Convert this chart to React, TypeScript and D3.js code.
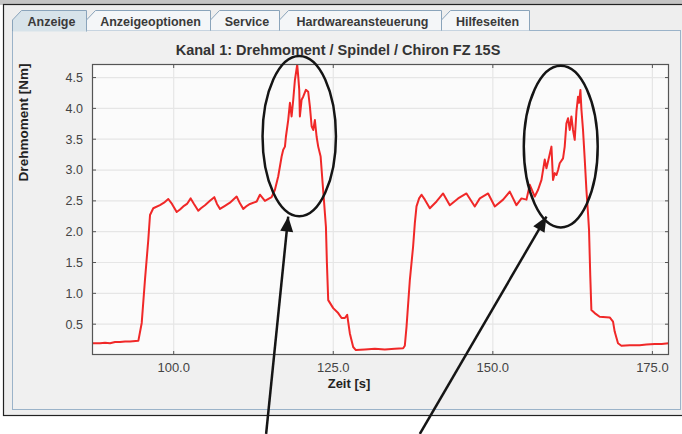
import React from 'react';
import * as d3 from 'd3';

const zeit = [
  87.2, 88.46, 89.24, 90.03, 90.81, 91.59, 92.38, 93.16, 94.46, 94.99,
  95.5, 96.02, 96.29, 96.8, 97.85, 98.48, 99.15, 99.73, 100.47, 100.99,
  101.5, 102.08, 102.66, 103.18, 103.85, 104.27, 104.9, 105.68, 106.36, 106.78,
  107.25, 108.03, 108.81, 109.86, 110.38, 110.9, 111.48, 111.95, 113.0, 113.51,
  114.29, 115.34, 115.86, 116.38, 116.91, 117.16, 117.43, 117.58, 117.94, 118.21,
  118.47, 118.73, 118.99, 119.35, 119.51, 119.67, 119.77, 120.04, 120.29, 120.71,
  121.07, 121.34, 121.61, 121.86, 122.12, 122.39, 122.64, 123.02, 123.33, 123.53,
  123.85, 124.0, 124.21, 124.99, 125.77, 126.3, 126.82, 127.18, 127.6, 128.12,
  128.54, 129.95, 131.52, 133.08, 134.65, 135.95, 136.21, 136.48, 137.0, 137.51,
  137.78, 138.04, 138.45, 138.83, 139.35, 140.13, 141.18, 142.21, 143.26, 144.56,
  145.87, 147.17, 147.96, 149.26, 150.31, 151.61, 152.65, 153.7, 154.49, 155.27,
  155.79, 156.57, 157.09, 157.62, 158.13, 158.4, 158.65, 159.18, 159.43, 159.7,
  159.97, 160.22, 160.48, 161.0, 161.26, 161.53, 161.78, 162.05, 162.31, 162.56,
  162.83, 163.1, 163.35, 163.51, 163.72, 163.88, 164.13, 164.4, 164.66, 164.91,
  165.07, 165.26, 165.44, 165.96, 166.74, 168.31, 168.83, 169.09, 169.61, 170.14,
  171.44, 173.0, 174.06, 175.36, 176.45, 177.54
];

const drehmoment = [
  0.19, 0.19, 0.2, 0.19, 0.21, 0.21, 0.22, 0.22, 0.23, 0.52,
  1.22, 1.87, 2.27, 2.38, 2.43, 2.47, 2.53, 2.45, 2.32, 2.36,
  2.41, 2.45, 2.54, 2.45, 2.34, 2.38, 2.43, 2.5, 2.56, 2.45,
  2.37, 2.42, 2.47, 2.57, 2.46, 2.37, 2.42, 2.45, 2.49, 2.6,
  2.5, 2.56, 2.68, 2.9, 3.22, 3.33, 3.38, 3.54, 3.81, 4.09,
  3.87, 4.14, 4.46, 4.71, 4.52, 4.3, 3.87, 4.14, 4.19, 4.3,
  4.27, 4.03, 3.71, 3.65, 3.81, 3.54, 3.38, 3.22, 2.79, 2.52,
  2.08, 1.5, 0.89, 0.76, 0.68, 0.6, 0.6, 0.65, 0.35, 0.13,
  0.08, 0.09, 0.1, 0.09, 0.1, 0.11, 0.15, 0.46, 1.22, 1.76,
  2.14, 2.41, 2.54, 2.6, 2.52, 2.38, 2.49, 2.62, 2.43, 2.54,
  2.62, 2.41, 2.54, 2.62, 2.41, 2.52, 2.65, 2.43, 2.54, 2.52,
  2.76, 2.57, 2.68, 2.84, 3.17, 3.03, 3.14, 3.38, 2.84, 2.95,
  2.92, 3.0, 3.11, 3.19, 3.38, 3.76, 3.84, 3.65, 3.87, 3.65,
  3.49, 3.95, 4.19, 4.09, 4.3, 3.98, 3.65, 3.17, 2.68, 2.3,
  2.03, 1.3, 0.73, 0.68, 0.62, 0.61, 0.54, 0.38, 0.19, 0.15,
  0.16, 0.16, 0.17, 0.18, 0.18, 0.19
];

const xTicks = [100, 125, 150, 175];
const yTicks = [0.5, 1.0, 1.5, 2.0, 2.5, 3.0, 3.5, 4.0, 4.5];
const tabLabels = ['Anzeige', 'Anzeigeoptionen', 'Service', 'Hardwareansteuerung', 'Hilfeseiten'];
const chartTitle = 'Kanal 1: Drehmoment / Spindel / Chiron FZ 15S';
const xLabel = 'Zeit [s]';
const yLabel = 'Drehmoment [Nm]';

// Markierungen (Ellipsen + Pfeile) in Datenkoordinaten
const ellipses = [
  { t: 119.67, v: 3.55, rt: 5.75, rv: 1.3 },
  { t: 160.64, v: 3.38, rt: 5.79, rv: 1.31 }
];
const arrows = [
  { t0: 114.48, v0: -1.28, t1: 117.94, v1: 2.245 },
  { t0: 138.56, v0: -1.28, t1: 158.4, v1: 2.245 }
];

const W = 682;
const H = 434;
const plot = { left: 92, right: 669, top: 64, bottom: 355 };
const tabEdges = [12, 86, 210, 279, 441, 529];
const font = '"Liberation Sans", Arial, sans-serif';

export default function App() {
  const x = d3.scaleLinear().domain([87.2, 177.6]).range([plot.left, plot.right]);
  const y = d3.scaleLinear().domain([0, 4.72]).range([plot.bottom, plot.top]);
  const fmt = d3.format('.1f');

  const line = d3
    .line<number>()
    .x((d, i) => x(zeit[i]))
    .y(d => y(d));

  const arrowHead = (a: typeof arrows[0]) => {
    const x0 = x(a.t0), y0 = y(a.v0), x1 = x(a.t1), y1 = y(a.v1);
    const len = Math.hypot(x1 - x0, y1 - y0);
    const ux = (x1 - x0) / len, uy = (y1 - y0) / len;
    const bx = x1 - ux * 15, by = y1 - uy * 15;
    return `M${x1},${y1}L${bx - uy * 6.5},${by + ux * 6.5}L${bx + uy * 6.5},${by - ux * 6.5}Z`;
  };

  return (
    <div style={{ position: 'absolute', left: 0, top: 0 }}>
      <svg width={W} height={H} style={{ display: 'block', fontFamily: font }}>
        <rect width={W} height={H} fill="#ffffff" />
        {/* Fensterrahmen */}
        <rect x={0} y={0} width={W} height={5} fill="#c4c4c4" />
        <rect x={3.5} y={4.5} width={W} height={411} fill="#eeeeee" stroke="#222" strokeWidth={1.2} />
        {/* Inhaltsbereich */}
        <rect x={12.5} y={30.5} width={668} height={379} fill="#f0f0f0" stroke="#9bb3c9" strokeWidth={1} />

        {/* Reiter */}
        {tabLabels.map((label, i) => {
          const x0 = tabEdges[i] + 0.5;
          const x1 = tabEdges[i + 1] + 0.5;
          const sel = i === 0;
          return (
            <g key={label}>
              <path
                d={`M${x0},${sel ? 31.5 : 30.5}L${x0},20L${x0 + 9},10.5L${x1},10.5L${x1},${sel ? 31.5 : 30.5}`}
                fill={sel ? '#d7e3ea' : '#f4f6f8'}
                stroke="#8aa4bb"
                strokeWidth={1}
              />
              <text
                x={(x0 + x1) / 2 + 2}
                y={26}
                textAnchor="middle"
                fontSize={12.5}
                fontWeight="bold"
                fill="#3a3a3a"
              >
                {label}
              </text>
            </g>
          );
        })}

        {/* Titel */}
        <text x={338} y={55} textAnchor="middle" fontSize={14.5} fontWeight="bold" fill="#333">
          {chartTitle}
        </text>

        {/* Plotbereich */}
        <rect
          x={plot.left}
          y={plot.top}
          width={plot.right - plot.left}
          height={plot.bottom - plot.top}
          fill="#fbfbfb"
        />
        {yTicks.map(t => (
          <line key={'gy' + t} x1={plot.left} x2={plot.right} y1={y(t)} y2={y(t)} stroke="#e6e6e6" strokeWidth={1.2} />
        ))}
        {xTicks.map(t => (
          <line key={'gx' + t} x1={x(t)} x2={x(t)} y1={plot.top} y2={plot.bottom} stroke="#e6e6e6" strokeWidth={1.2} />
        ))}

        <defs>
          <clipPath id="plotclip">
            <rect x={plot.left} y={plot.top} width={plot.right - plot.left} height={plot.bottom - plot.top} />
          </clipPath>
        </defs>
        <path
          d={line(drehmoment) || ''}
          fill="none"
          stroke="#f02828"
          strokeWidth={2}
          strokeLinejoin="round"
          clipPath="url(#plotclip)"
        />

        <rect
          x={plot.left + 0.5}
          y={plot.top + 0.5}
          width={plot.right - plot.left - 1}
          height={plot.bottom - plot.top - 1}
          fill="none"
          stroke="#555"
          strokeWidth={1.2}
        />

        {/* Achsen-Ticks */}
        {yTicks.map(t => (
          <g key={'ty' + t}>
            <line x1={plot.left} x2={plot.left + 4} y1={y(t)} y2={y(t)} stroke="#555" />
            <line x1={plot.right} x2={plot.right - 4} y1={y(t)} y2={y(t)} stroke="#555" />
            <text x={83} y={y(t)} dy="0.35em" textAnchor="end" fontSize={12.5} fill="#444">
              {fmt(t)}
            </text>
          </g>
        ))}
        {xTicks.map(t => (
          <g key={'tx' + t}>
            <line x1={x(t)} x2={x(t)} y1={plot.bottom} y2={plot.bottom - 4} stroke="#555" />
            <line x1={x(t)} x2={x(t)} y1={plot.top} y2={plot.top + 4} stroke="#555" />
            <text x={x(t)} y={372} textAnchor="middle" fontSize={13} fill="#444">
              {fmt(t)}
            </text>
          </g>
        ))}

        <text x={349} y={388} textAnchor="middle" fontSize={13} fontWeight="bold" fill="#222">
          {xLabel}
        </text>
        <text
          transform="translate(28,122.5) rotate(-90)"
          textAnchor="middle"
          fontSize={13.5}
          fontWeight="bold"
          fill="#222"
        >
          {yLabel}
        </text>

        {/* Markierungen */}
        {ellipses.map((e, i) => (
          <ellipse
            key={'e' + i}
            cx={x(e.t)}
            cy={y(e.v)}
            rx={x(e.t + e.rt) - x(e.t)}
            ry={y(e.v - e.rv) - y(e.v)}
            fill="none"
            stroke="#151515"
            strokeWidth={2.5}
          />
        ))}
        {arrows.map((a, i) => (
          <g key={'a' + i}>
            <line x1={x(a.t0)} y1={y(a.v0)} x2={x(a.t1)} y2={y(a.v1)} stroke="#151515" strokeWidth={2.5} />
            <path d={arrowHead(a)} fill="#151515" />
          </g>
        ))}
      </svg>
    </div>
  );
}
